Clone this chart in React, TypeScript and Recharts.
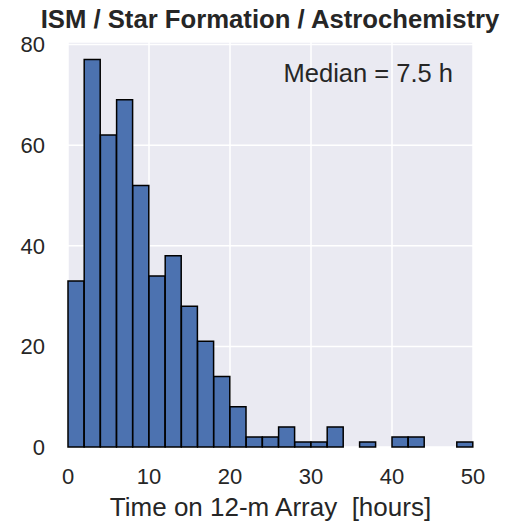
import React from 'react';
import { BarChart, Bar, XAxis, YAxis, CartesianGrid, Customized } from 'recharts';

const binStarts = [0, 2, 4, 6, 8, 10, 12, 14, 16, 18, 20, 22, 24, 26, 28, 30, 32, 34, 36, 38, 40, 42, 44, 46, 48];
const binWidth = 2;
const counts = [33, 77, 62, 69, 52, 34, 38, 28, 21, 14, 8, 2, 2, 4, 1, 1, 4, 0, 1, 0, 2, 2, 0, 0, 1];
const xTicks = [0, 10, 20, 30, 40, 50];
const yTicks = [0, 20, 40, 60, 80];
const title = 'ISM / Star Formation / Astrochemistry';
const xLabel = 'Time on 12-m Array \u00A0[hours]';
const note = 'Median = 7.5 h';

const data = binStarts.map((s, i) => ({ x: s + binWidth / 2, count: counts[i] }));

const FONT = '"Liberation Sans", Arial, Helvetica, sans-serif';
const TEXT = '#262626';

const Overlay = () => (
  <g>
    <text x={270} y={28} textAnchor="middle" fontFamily={FONT} fontSize={25.7} fontWeight="bold" fill={TEXT}>
      {title}
    </text>
    <text x={453} y={82} textAnchor="end" fontFamily={FONT} fontSize={25.5} fill={TEXT}>
      {note}
    </text>
  </g>
);

export default function App() {
  return (
    <div style={{ position: 'absolute', left: 0, top: 0 }}>
      <BarChart
        width={505}
        height={523}
        data={data}
        margin={{ top: 42, right: 32, left: 0, bottom: 0 }}
        barCategoryGap={0}
        barGap={0}
      >
        <CartesianGrid stroke="#ffffff" strokeWidth={1.5} fill="#EAEAF2" />
        <XAxis
          dataKey="x"
          type="number"
          domain={[0, 50]}
          ticks={xTicks}
          height={76}
          axisLine={false}
          tickLine={false}
          tickSize={0}
          tickMargin={21}
          tick={{ fontFamily: FONT, fontSize: 22, fill: TEXT }}
          label={{ value: xLabel, position: 'insideBottom', offset: 7, fontFamily: FONT, fontSize: 26, fill: TEXT }}
        />
        <YAxis
          type="number"
          domain={[0, 80.5]}
          ticks={yTicks}
          width={68}
          axisLine={false}
          tickLine={false}
          tickSize={0}
          tickMargin={23}
          tick={{ fontFamily: FONT, fontSize: 22, fill: TEXT }}
        />
        <Bar dataKey="count" fill="#4C72B0" stroke="#000000" strokeWidth={1.5} isAnimationActive={false} />
        <Customized component={Overlay} />
      </BarChart>
    </div>
  );
}
